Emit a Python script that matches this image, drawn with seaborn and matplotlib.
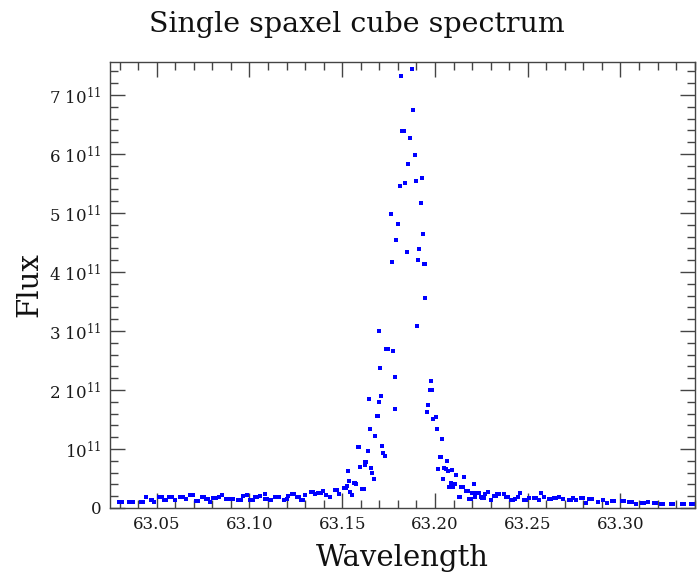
import seaborn as sns
import matplotlib.pyplot as plt
import matplotlib.ticker as mticker
import pandas as pd

# wavelength (micron) and flux (units of 1e11)
wave = [
    63.0294, 63.0313, 63.0353, 63.0372, 63.0413, 63.0426, 63.0442, 63.0467, 63.0475, 63.0483,
    63.0510, 63.0526, 63.0537, 63.0550, 63.0564, 63.0582, 63.0601, 63.0628, 63.0644, 63.0658,
    63.0682, 63.0693, 63.0709, 63.0725, 63.0744, 63.0755, 63.0766, 63.0776, 63.0787, 63.0806,
    63.0822, 63.0836, 63.0852, 63.0873, 63.0890, 63.0911, 63.0938, 63.0954, 63.0965, 63.0989,
    63.1005, 63.1019, 63.1030, 63.1043, 63.1059, 63.1081, 63.1086, 63.1092, 63.1108, 63.1116,
    63.1140, 63.1159, 63.1186, 63.1202, 63.1210, 63.1229, 63.1242, 63.1256, 63.1269, 63.1278,
    63.1288, 63.1299, 63.1329, 63.1342, 63.1353, 63.1372, 63.1385, 63.1399, 63.1415, 63.1434,
    63.1461, 63.1474, 63.1485, 63.1509, 63.1520,
    63.1525, 63.1529, 63.1536, 63.1543, 63.1551, 63.1563, 63.1568, 63.1574, 63.1583, 63.1590,
    63.1595, 63.1606, 63.1612, 63.1617, 63.1621, 63.1624, 63.1629, 63.1637, 63.1642, 63.1649,
    63.1656, 63.1662, 63.1669, 63.1676, 63.1685, 63.1691, 63.1696, 63.1700, 63.1703, 63.1709,
    63.1716, 63.1719, 63.1730, 63.1737, 63.1748, 63.1762, 63.1769, 63.1775, 63.1784, 63.1787,
    63.1791, 63.1799, 63.1802, 63.1809, 63.1816, 63.1823, 63.1831, 63.1838, 63.1849, 63.1856,
    63.1863, 63.1876, 63.1883, 63.1890, 63.1897, 63.1904, 63.1910, 63.1915, 63.1924, 63.1929,
    63.1936, 63.1939, 63.1944, 63.1949, 63.1956, 63.1962, 63.1971, 63.1976, 63.1983, 63.1992,
    63.2003, 63.2010, 63.2017, 63.2026, 63.2032, 63.2037, 63.2043, 63.2050, 63.2059, 63.2064,
    63.2071, 63.2077, 63.2089, 63.2094, 63.2098, 63.2101, 63.2107, 63.2116, 63.2130, 63.2134,
    63.2143, 63.2152, 63.2157, 63.2168, 63.2176, 63.2183, 63.2192, 63.2200, 63.2206, 63.2211,
    63.2215, 63.2224, 63.2235,
    63.2247, 63.2253, 63.2263, 63.2272, 63.2287, 63.2301, 63.2317, 63.2328, 63.2336, 63.2347,
    63.2371, 63.2382, 63.2393, 63.2409, 63.2420, 63.2433, 63.2447, 63.2457, 63.2479, 63.2490,
    63.2509, 63.2533, 63.2544, 63.2560, 63.2574, 63.2589, 63.2614, 63.2624, 63.2641, 63.2651,
    63.2670, 63.2692, 63.2721, 63.2732, 63.2746, 63.2762, 63.2786, 63.2797, 63.2816, 63.2832,
    63.2848, 63.2878, 63.2905, 63.2926, 63.2956, 63.2967, 63.3010, 63.3021, 63.3047, 63.3064,
    63.3085, 63.3115, 63.3126, 63.3147, 63.3180, 63.3190, 63.3217, 63.3228, 63.3271, 63.3282,
    63.3333, 63.3344, 63.3382, 63.3395,
]
flux11 = [
    0.102, 0.102, 0.102, 0.102, 0.102, 0.102, 0.186, 0.136, 0.136, 0.110,
    0.186, 0.186, 0.136, 0.136, 0.186, 0.186, 0.136, 0.186, 0.186, 0.153,
    0.212, 0.212, 0.127, 0.127, 0.186, 0.186, 0.161, 0.161, 0.110, 0.169,
    0.169, 0.186, 0.212, 0.153, 0.161, 0.161, 0.136, 0.136, 0.195, 0.212,
    0.136, 0.136, 0.178, 0.186, 0.195, 0.161, 0.229, 0.161, 0.136, 0.136,
    0.178, 0.186, 0.144, 0.153, 0.195, 0.237, 0.237, 0.178, 0.178, 0.144,
    0.144, 0.212, 0.263, 0.263, 0.237, 0.246, 0.246, 0.280, 0.212, 0.178,
    0.305, 0.305, 0.229, 0.347, 0.347,
    0.373, 0.627, 0.463, 0.266, 0.225, 0.424, 0.424, 0.415, 1.029, 1.029,
    0.690, 0.322, 0.314, 0.322, 0.734, 0.780, 0.780, 0.961, 1.847, 1.344,
    0.673, 0.588, 0.497, 1.215, 1.554, 1.554, 1.802, 3.005, 2.373, 1.893,
    1.046, 0.927, 0.881, 2.690, 2.690, 4.983, 4.164, 2.666, 2.225, 1.678,
    4.537, 4.814, 4.814, 5.463, 7.317, 6.390, 6.390, 5.503, 4.334, 5.825,
    6.266, 7.441, 6.746, 5.988, 5.547, 3.090, 4.203, 4.395, 5.169, 5.593,
    4.649, 4.136, 4.136, 3.554, 1.632, 1.741, 1.995, 2.158, 1.995, 1.508,
    1.537, 1.344, 0.666, 0.859, 0.859, 1.175, 0.497, 0.683, 0.661, 0.797,
    0.627, 0.356, 0.424, 0.644, 0.356, 0.407, 0.407, 0.559, 0.186, 0.186,
    0.356, 0.356, 0.520, 0.288, 0.288, 0.158, 0.158, 0.259, 0.259, 0.412,
    0.192, 0.246, 0.246,
    0.192, 0.169, 0.169, 0.232, 0.271, 0.136, 0.203, 0.203, 0.232, 0.232,
    0.232, 0.192, 0.192, 0.136, 0.136, 0.158, 0.192, 0.249, 0.136, 0.136,
    0.175, 0.175, 0.175, 0.136, 0.249, 0.192, 0.147, 0.147, 0.169, 0.169,
    0.192, 0.147, 0.136, 0.136, 0.169, 0.136, 0.164, 0.164, 0.090, 0.147,
    0.147, 0.107, 0.136, 0.090, 0.124, 0.124, 0.124, 0.124, 0.107, 0.107,
    0.068, 0.090, 0.090, 0.102, 0.080, 0.080, 0.063, 0.063, 0.068, 0.068,
    0.068, 0.068, 0.068, 0.068,
]

df = pd.DataFrame({"Wavelength": wave, "Flux": [f * 1e11 for f in flux11]})

sns.set_style("ticks")
plt.rcParams["font.family"] = ["DejaVu Serif"]
plt.rcParams["mathtext.fontset"] = "dejavuserif"

fig = plt.figure(figsize=(6.97, 5.74), dpi=100)
ax = fig.add_axes([110 / 697, 66 / 574, 585 / 697, 446 / 574])

sns.scatterplot(data=df, x="Wavelength", y="Flux", ax=ax,
                marker="s", s=5, color="blue", linewidth=0)

ax.set_xlim(63.0248, 63.3402)
ax.set_ylim(0, 7.56e11)

ax.xaxis.set_major_locator(mticker.MultipleLocator(0.05))
ax.xaxis.set_minor_locator(mticker.MultipleLocator(0.01))
ax.xaxis.set_major_formatter(mticker.FormatStrFormatter("%.2f"))
ax.yaxis.set_major_locator(mticker.MultipleLocator(1e11))
ax.yaxis.set_minor_locator(mticker.MultipleLocator(0.2e11))


def flux_label(v, pos):
    n = int(round(v / 1e11))
    if n == 0:
        return "0"
    if n == 1:
        return r"$10^{11}$"
    return r"$%d\ 10^{11}$" % n


ax.yaxis.set_major_formatter(mticker.FuncFormatter(flux_label))

ax.tick_params(which="both", direction="in", top=True, right=True,
               colors="#444444", labelcolor="#1a1a1a")
ax.tick_params(which="major", length=11, width=1, labelsize=12, pad=6)
ax.tick_params(which="minor", length=6, width=1)
for sp in ax.spines.values():
    sp.set_color("#444444")
    sp.set_linewidth(1)

ax.set_xlabel("Wavelength", fontsize=21, labelpad=8, color="#111111")
ax.set_ylabel("Flux", fontsize=21, labelpad=4, color="#111111")
fig.text(357 / 697, 1 - 25 / 574, "Single spaxel cube spectrum",
         fontsize=20.5, ha="center", va="center", color="#111111")

fig.savefig("out.png", dpi=100)
